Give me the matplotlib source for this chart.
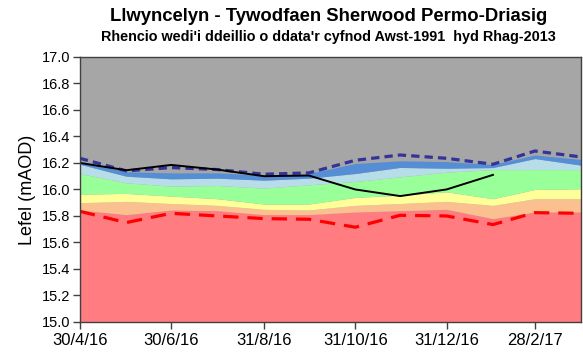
import matplotlib
matplotlib.use("Agg")
import matplotlib.pyplot as plt
import pandas as pd

plt.rcParams['font.family'] = ['Liberation Sans', 'DejaVu Sans']

# Month-end dates of the rankings
months = pd.to_datetime([
    "2016-04-30", "2016-05-31", "2016-06-30", "2016-07-31", "2016-08-31", "2016-09-30",
    "2016-10-31", "2016-11-30", "2016-12-31", "2017-01-31", "2017-02-28", "2017-03-31",
])

# Upper limit of each ranking band (mAOD)
red_top = [15.845, 15.81, 15.845, 15.84, 15.81, 15.81, 15.83, 15.84, 15.85, 15.78, 15.83, 15.83]
orange_top = [15.90, 15.91, 15.894, 15.88, 15.85, 15.845, 15.88, 15.894, 15.91, 15.88, 15.93, 15.93]
yellow_top = [15.965, 15.97, 15.95, 15.93, 15.89, 15.89, 15.94, 15.957, 15.982, 15.93, 16.0, 16.005]
green_top = [16.12, 16.05, 16.025, 16.03, 16.01, 16.035, 16.06, 16.095, 16.13, 16.15, 16.15, 16.15]
lightblue_top = [16.19, 16.10, 16.08, 16.085, 16.07, 16.085, 16.12, 16.166, 16.16, 16.165, 16.233, 16.183]
blue_top = [16.215, 16.133, 16.125, 16.125, 16.108, 16.12, 16.196, 16.216, 16.21, 16.188, 16.26, 16.226]

# Historical maximum and minimum
hist_max = [16.235, 16.14, 16.165, 16.15, 16.115, 16.125, 16.22, 16.26, 16.235, 16.19, 16.29, 16.245]
hist_min = [15.835, 15.75, 15.82, 15.80, 15.78, 15.775, 15.715, 15.805, 15.80, 15.735, 15.825, 15.82]

# Observed groundwater level
obs_dates = months[:10]
obs_level = [16.20, 16.145, 16.185, 16.15, 16.10, 16.105, 16.00, 15.95, 16.00, 16.11]

tick_dates = pd.to_datetime(["2016-04-30", "2016-06-30", "2016-08-31",
                             "2016-10-31", "2016-12-31", "2017-02-28"])
tick_labels = ["30/4/16", "30/6/16", "31/8/16", "31/10/16", "31/12/16", "28/2/17"]

fig = plt.figure(figsize=(5.83, 3.58), dpi=100)
ax = fig.add_axes([0.137, 0.1006, 0.86, 0.7404])

ymin, ymax = 15.0, 17.0
ax.set_facecolor("#A6A6A6")
bands = [
    ([ymin] * len(months), red_top, "#FF7C80"),
    (red_top, orange_top, "#FAC090"),
    (orange_top, yellow_top, "#FFFF99"),
    (yellow_top, green_top, "#99FF99"),
    (green_top, lightblue_top, "#B7DDE8"),
    (lightblue_top, blue_top, "#558ED5"),
]
for lo, hi, col in bands:
    ax.fill_between(months, lo, hi, color=col, linewidth=0)

ax.plot(months, hist_max, color="#333399", lw=2.3, dashes=(2.6, 1.6))
ax.plot(months, hist_min, color="#FF0000", lw=2.3, dashes=(4.8, 2.8))
ax.plot(obs_dates, obs_level, color="black", lw=1.4)

ax.set_xlim(months[0], months[-1])
ax.set_ylim(ymin, ymax)
ax.set_yticks([15.0 + 0.2 * i for i in range(11)])
ax.yaxis.set_major_formatter(matplotlib.ticker.FormatStrFormatter("%.1f"))
ax.set_xticks(tick_dates)
ax.set_xticklabels(tick_labels)
ax.tick_params(axis="y", labelsize=10.5, length=5, width=1, color="#404040", pad=2)
ax.tick_params(axis="x", labelsize=12, length=5, width=1, color="#404040", pad=3)
for s in ax.spines.values():
    s.set_color("#404040")
    s.set_linewidth(1)

ax.set_ylabel("Lefel (mAOD)", fontsize=13, labelpad=4)

fig.text(0.564, 0.953, "Llwyncelyn - Tywodfaen Sherwood Permo-Driasig",
         ha="center", va="center", fontsize=13.3, fontweight="bold")
fig.text(0.564, 0.897, "Rhencio wedi'i ddeillio o ddata'r cyfnod Awst-1991  hyd Rhag-2013",
         ha="center", va="center", fontsize=10.4, fontweight="bold")

fig.savefig("out.png", dpi=100)
